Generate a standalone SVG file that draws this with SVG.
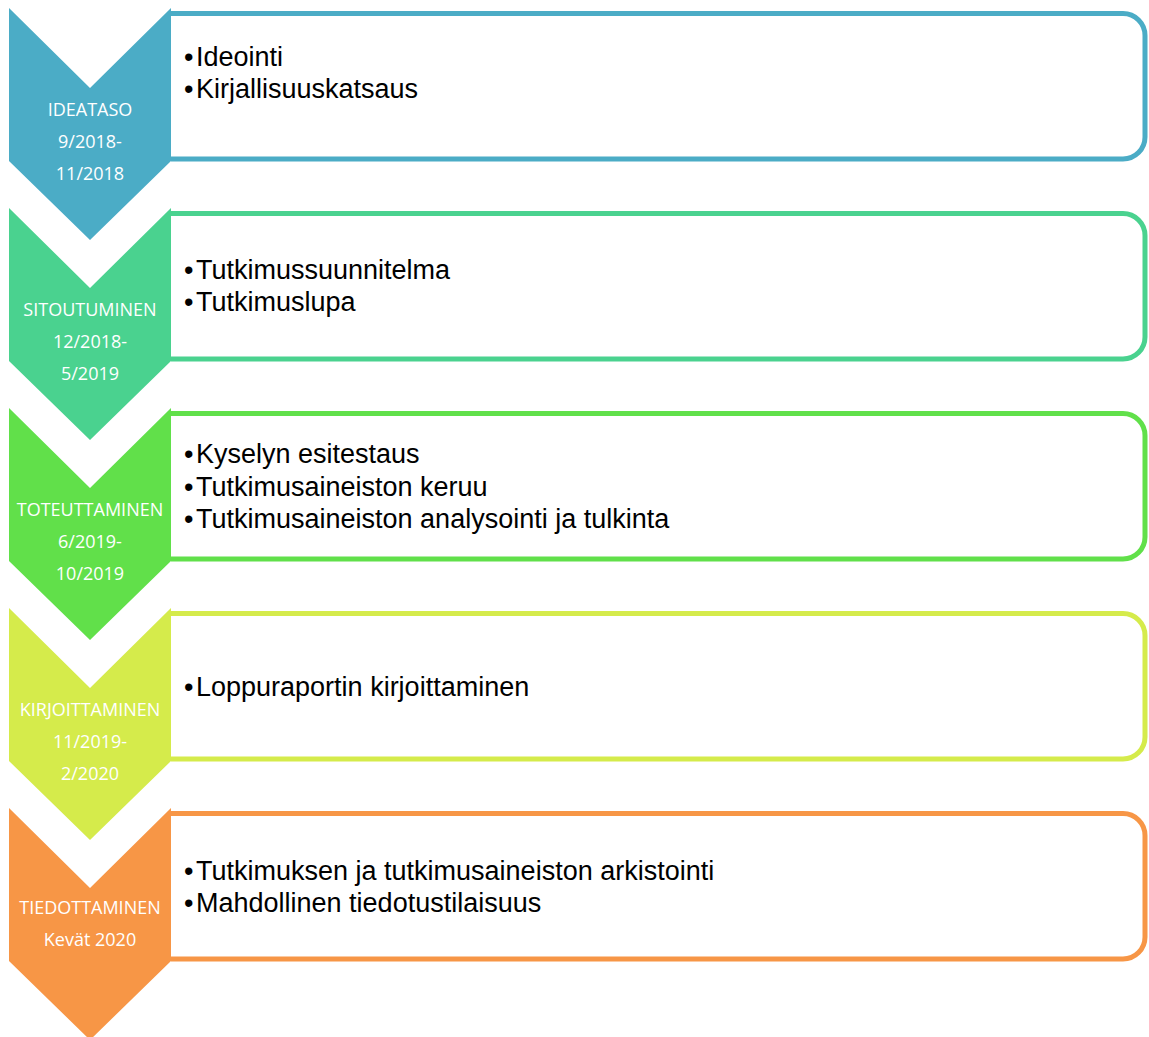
<svg xmlns="http://www.w3.org/2000/svg" width="1149" height="1037" viewBox="0 0 1149 1037">
<style>
.box{fill:#fff;stroke-width:5}
.lab{font-family:"Open Sans","Liberation Sans",sans-serif;font-size:18px;fill:#fff;text-anchor:middle}
.item{font-family:"Liberation Sans",Arial,sans-serif;font-size:27px;fill:#000}
</style>
<rect width="1149" height="1037" fill="#fff"/>
<defs>
<path id="chev" d="M9,8 L90,88 L171,8 L171,161 L90,240 L9,161 Z"/>
<path id="frame" d="M171,13.5 H1123 A22,22 0 0 1 1145,35.5 V137 A22,22 0 0 1 1123,159 H171"/>
</defs>
<g id="connectors"></g>
<g id="row1">
<use href="#frame" class="box" stroke="#4BACC6"/>
<use href="#chev" fill="#4BACC6"/>
<text class="lab" x="90" y="116">IDEATASO</text>
<text class="lab" x="90" y="148">9/2018-</text>
<text class="lab" x="90" y="180">11/2018</text>
<text class="item" x="184" y="66">•</text><text class="item" x="196" y="66">Ideointi</text>
<text class="item" x="184" y="98">•</text><text class="item" x="196" y="98">Kirjallisuuskatsaus</text>
</g>
<g id="row2" transform="translate(0,200)">
<use href="#frame" class="box" stroke="#4AD28F"/>
<use href="#chev" fill="#4AD28F"/>
<text class="lab" x="90" y="116">SITOUTUMINEN</text>
<text class="lab" x="90" y="148">12/2018-</text>
<text class="lab" x="90" y="180">5/2019</text>
<text class="item" x="184" y="78.5">•</text><text class="item" x="196" y="78.5">Tutkimussuunnitelma</text>
<text class="item" x="184" y="110.5">•</text><text class="item" x="196" y="110.5">Tutkimuslupa</text>
</g>
<g id="row3" transform="translate(0,400)">
<use href="#frame" class="box" stroke="#61E04A"/>
<use href="#chev" fill="#61E04A"/>
<text class="lab" x="90" y="116">TOTEUTTAMINEN</text>
<text class="lab" x="90" y="148">6/2019-</text>
<text class="lab" x="90" y="180">10/2019</text>
<text class="item" x="184" y="62.5">•</text><text class="item" x="196" y="62.5">Kyselyn esitestaus</text>
<text class="item" x="184" y="95.5">•</text><text class="item" x="196" y="95.5">Tutkimusaineiston keruu</text>
<text class="item" x="184" y="127.5">•</text><text class="item" x="196" y="127.5">Tutkimusaineiston analysointi ja tulkinta</text>
</g>
<g id="row4" transform="translate(0,600)">
<use href="#frame" class="box" stroke="#D5EB4B"/>
<use href="#chev" fill="#D5EB4B"/>
<text class="lab" x="90" y="116">KIRJOITTAMINEN</text>
<text class="lab" x="90" y="148">11/2019-</text>
<text class="lab" x="90" y="180">2/2020</text>
<text class="item" x="184" y="95.5">•</text><text class="item" x="196" y="95.5">Loppuraportin kirjoittaminen</text>
</g>
<g id="row5" transform="translate(0,800)">
<use href="#frame" class="box" stroke="#F79646"/>
<use href="#chev" fill="#F79646"/>
<text class="lab" x="90" y="114">TIEDOTTAMINEN</text>
<text class="lab" x="90" y="146">Kevät 2020</text>
<text class="item" x="184" y="79.5">•</text><text class="item" x="196" y="79.5">Tutkimuksen ja tutkimusaineiston arkistointi</text>
<text class="item" x="184" y="111.5">•</text><text class="item" x="196" y="111.5">Mahdollinen tiedotustilaisuus</text>
</g>
</svg>
